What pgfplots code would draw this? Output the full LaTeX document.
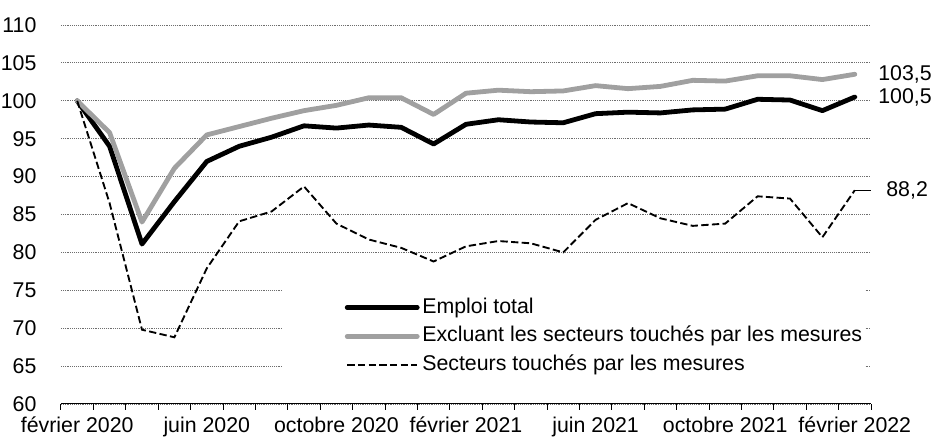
\documentclass[border=0pt]{standalone}
\usepackage{pgfplots}
\pgfplotsset{compat=1.18}
\usepackage{fontspec}
\setmainfont{Liberation Sans}
\definecolor{lgray}{RGB}{160,160,160}
\definecolor{gridc}{RGB}{110,110,110}
\pgfplotsset{padleg/.style={legend image code/.code={\path[draw=none,fill=none] (-48.75pt,0pt) -- (0pt,0pt); \draw[##1] (0pt,0pt) -- (52.5pt,0pt);}}}
\begin{document}
\fontsize{16}{19}\selectfont
\begin{tikzpicture}
\begin{axis}[
  at={(0,0)}, anchor=south west,
  scale only axis, width=607.5pt, height=284.25pt,
  xmin=-0.5, xmax=24.5, ymin=60, ymax=110,
  clip=false,
  ytick={60,65,...,110},
  ymajorgrids, grid style={densely dotted, gridc, line width=0.6pt},
  axis x line*=bottom, axis y line*=left,
  y axis line style={draw=none},
  ytick style={draw=none},
  x axis line style={black, line width=0.75pt, -},
  xtick={-0.5,0.5,...,24.5},
  xticklabels={},
  xtick style={black, line width=0.75pt},
  tick align=outside, major tick length=4.5pt,
  extra x ticks={0,4,8,12,16,20,24},
  extra x tick labels={février 2020, juin 2020, octobre 2020, février 2021, juin 2021, octobre 2021, février 2022},
  extra x tick style={major tick length=0pt, grid=none},
  tick label style={font=\fontsize{16}{19}\selectfont},
  /pgf/number format/assume math mode=true,
  yticklabel style={xshift=-8.4pt},
  xticklabel style={yshift=-4.2pt},
  legend style={at={(rel axis cs:0.2728,0.306)}, anchor=north west, fill=white, draw=none,
    inner xsep=0pt, inner ysep=3.75pt, row sep=0pt, font=\fontsize{16}{19}\selectfont,
    nodes={inner xsep=2pt, inner ysep=3pt, text height=12pt, text depth=3.5pt}},
  legend cell align=left,
]
\addplot[black, line width=3.6pt, line join=round, line cap=round, padleg]
  coordinates {(0,100) (1,94.0) (2,81.1) (3,86.7) (4,92.0) (5,94.0) (6,95.2) (7,96.7) (8,96.4) (9,96.8) (10,96.5) (11,94.3) (12,96.9) (13,97.5) (14,97.2) (15,97.1) (16,98.3) (17,98.5) (18,98.4) (19,98.8) (20,98.9) (21,100.2) (22,100.1) (23,98.7) (24,100.5)};
\addlegendentry{Emploi total}
\addplot[lgray, line width=3.6pt, line join=round, line cap=round, padleg]
  coordinates {(0,100) (1,95.8) (2,84.0) (3,91.1) (4,95.5) (5,96.6) (6,97.7) (7,98.7) (8,99.4) (9,100.4) (10,100.4) (11,98.2) (12,101.0) (13,101.4) (14,101.2) (15,101.3) (16,102.0) (17,101.6) (18,101.9) (19,102.7) (20,102.6) (21,103.3) (22,103.3) (23,102.8) (24,103.5)};
\addlegendentry{Excluant les secteurs touchés par les mesures\hspace{7pt}}
\addplot[black, line width=1.4pt, dash pattern=on 5.5pt off 2.5pt, padleg]
  coordinates {(0,100) (1,86.5) (2,69.8) (3,68.8) (4,77.9) (5,84.1) (6,85.4) (7,88.7) (8,83.8) (9,81.7) (10,80.6) (11,78.8) (12,80.8) (13,81.5) (14,81.2) (15,80.0) (16,84.3) (17,86.5) (18,84.5) (19,83.5) (20,83.8) (21,87.4) (22,87.1) (23,82.0) (24,88.2)};
\addlegendentry{Secteurs touchés par les mesures}
\addplot[black, line width=0.9pt, forget plot] coordinates {(24,88.2) (24.5,88.2)};
\node[anchor=west, font=\fontsize{16}{19}\selectfont] at (axis cs:24.5,103.5) {103,5};
\node[anchor=west, font=\fontsize{16}{19}\selectfont] at (axis cs:24.5,100.5) {100,5};
\node[anchor=west, xshift=6pt, font=\fontsize{16}{19}\selectfont] at (axis cs:24.5,88.2) {88,2};
\end{axis}
\pgfresetboundingbox
\path ([shift={(-45.75pt,-25.5pt)}]current axis.south west) rectangle ([shift={(47.25pt,18.75pt)}]current axis.north east);
\end{tikzpicture}
\end{document}
